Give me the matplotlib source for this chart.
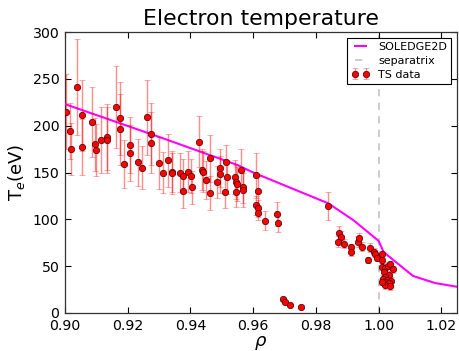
import matplotlib
matplotlib.use("Agg")
import matplotlib.pyplot as plt
import numpy as np

# SOLEDGE2D simulated profile
sim_rho = [0.900, 0.930, 0.955, 0.960, 0.984, 0.992, 1.000, 1.0016, 1.011, 1.018, 1.025]
sim_te = [223, 188, 158, 150, 117, 99, 77, 65, 39.5, 32, 28]

# Thomson scattering data
ts_rho = [0.9003, 0.9016, 0.9019, 0.9037, 0.9055, 0.9055, 0.9085, 0.9096, 0.9098, 0.9115,
          0.9133, 0.9133, 0.9162, 0.9174, 0.9174, 0.9188, 0.9208, 0.9208, 0.9234, 0.9245,
          0.9261, 0.9275, 0.9275, 0.9301, 0.9314, 0.9328, 0.9342, 0.9342, 0.9367, 0.9376,
          0.9376, 0.9393, 0.9402, 0.9404, 0.9427, 0.9437, 0.9439, 0.9450, 0.9461, 0.9463,
          0.9486, 0.9493, 0.9493, 0.9510, 0.9514, 0.9518, 0.9541, 0.9545, 0.9548, 0.9546,
          0.9562, 0.9568, 0.9568, 0.9610, 0.9615, 0.9610, 0.9615, 0.9617, 0.9639, 0.9676,
          0.9679, 0.9696, 0.9703, 0.9719, 0.9754, 0.9838, 0.9875, 0.9879, 0.9871, 0.9889,
          0.9913, 0.9913, 0.9934, 0.9939, 0.9948, 0.9971, 0.9967, 0.9985, 0.9988, 0.9996,
          1.0010, 1.0012, 1.0010, 1.0022, 1.0030, 1.0036, 1.0046, 1.0017, 1.0033, 1.0022,
          1.0014, 1.0028, 1.0038, 1.0019, 1.0033, 1.0022, 1.0035, 1.0012]
ts_te = [215, 194, 175, 241, 211, 177, 204, 180, 174, 185,
         188, 185, 220, 208, 196, 159, 179, 171, 161, 155,
         209, 191, 182, 160, 150, 163, 151, 149, 150, 146,
         130, 151, 146, 134, 183, 153, 151, 142, 128, 165,
         140, 155, 148, 129, 161, 145, 145, 140, 138, 129,
         153, 135, 131, 147, 130, 115, 112, 107, 98.5, 106,
         96, 14.6, 11.4, 8.5, 6, 114.5, 85, 81.5, 76, 74,
         70, 65, 76, 79.7, 70.8, 69.7, 56.6, 65.4, 63.3, 59,
         57, 62.6, 49.4, 48.4, 50.5, 52, 46.6, 44, 40.5, 38.8,
         36.3, 35.2, 34, 32.7, 31.7, 30, 29, 33.4]
ts_err = [40, 30, 28, 51, 38, 30, 37, 28, 28, 35,
          35, 35, 44, 39, 38, 26, 30, 30, 25, 23,
          40, 33, 33, 28, 22, 28, 22, 22, 21, 18,
          18, 22, 18, 18, 27, 22, 22, 20, 18, 25,
          17, 20, 20, 17, 18, 18, 18, 18, 18, 16,
          22, 18, 18, 24, 16, 10, 9, 8, 10, 13,
          10, 2, 2, 1, 1, 15, 8, 6, 6, 5,
          4, 4, 6, 6, 5, 5, 3, 4, 4, 4,
          4, 4, 4, 4, 4, 4, 4, 4, 4, 4,
          4, 4, 4, 4, 4, 4, 4, 4]

separatrix = 1.0
xticks = [0.90, 0.92, 0.94, 0.96, 0.98, 1.00, 1.02]
yticks = [0, 50, 100, 150, 200, 250, 300]

fig = plt.figure(figsize=(4.59, 3.51), dpi=100)
ax = fig.add_axes([65/459, 38/351, 392/459, 281/351])

l1, = ax.plot(sim_rho, sim_te, color='#ff00ff', lw=1.5, label='SOLEDGE2D', zorder=3)
l2 = ax.axvline(separatrix, color='#c8c8c8', lw=1.3, ls=(0, (4, 3.5)), label='separatrix', zorder=1)
eb = ax.errorbar(ts_rho, ts_te, yerr=ts_err, fmt='o', color='red', ms=4.6,
                 mec='#400000', mew=0.5, ecolor=(1, 0, 0, 0.45), elinewidth=1.0,
                 capsize=2, capthick=1.0, label='TS data', zorder=4)

ax.set_xlim(0.90, 1.025)
ax.set_ylim(0, 300)
ax.set_xticks(xticks)
ax.set_xticklabels([f'{v:.2f}' for v in xticks])
ax.set_yticks(yticks)
ax.tick_params(direction='in', top=True, right=True, labelsize=10.2, length=4, width=0.8, pad=4)
for s in ax.spines.values():
    s.set_linewidth(0.9)
    s.set_color('#333333')

ax.set_title('Electron temperature', fontsize=15.8, pad=5)
ax.set_xlabel(r'$\rho$', fontsize=13, labelpad=1)
ax.set_ylabel(r'T$_e$(eV)', fontsize=13, labelpad=4)

leg = ax.legend(handles=[l1, l2, eb], loc='upper right', fontsize=8, numpoints=2,
                fancybox=False, framealpha=1, edgecolor='black', handlelength=1.6,
                borderaxespad=0.5, labelspacing=0.35)
leg.get_frame().set_linewidth(0.8)

fig.savefig('out.png', dpi=100)
